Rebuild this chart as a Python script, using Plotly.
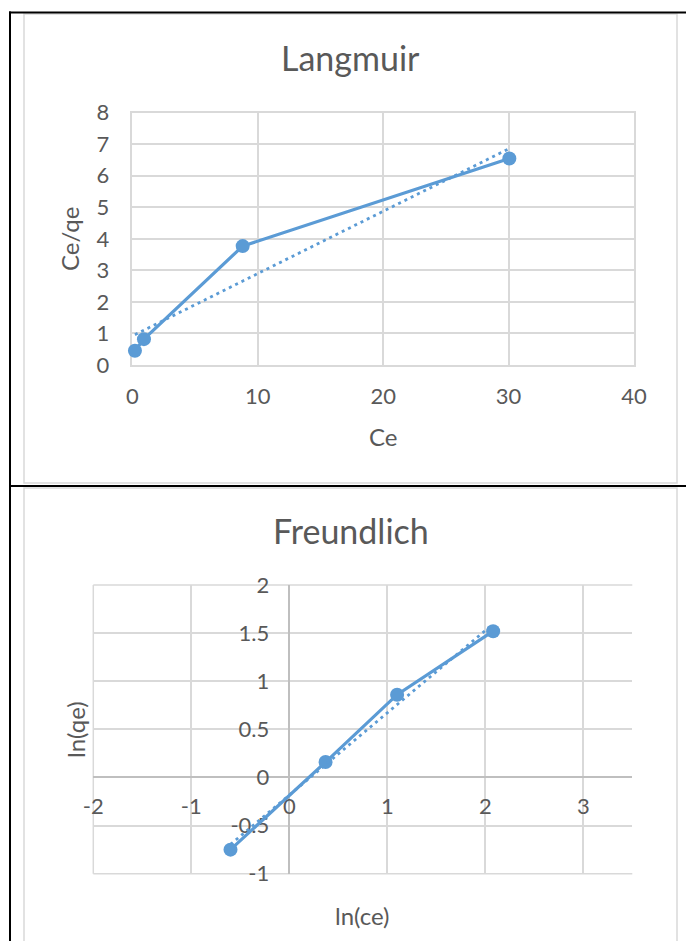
import numpy as np
import plotly.graph_objects as go

# Langmuir isotherm data
ce = [0.21, 0.93, 8.8, 30.06]
ce_qe = [0.45, 0.82, 3.77, 6.55]

# Freundlich isotherm data
ln_ce = [-0.60, 0.37, 1.10, 2.08]
ln_qe = [-0.75, 0.16, 0.86, 1.52]

# Tick labels
lang_x_ticks = [0, 10, 20, 30, 40]
lang_x_text = ["0", "10", "20", "30", "40"]
lang_y_ticks = [0, 1, 2, 3, 4, 5, 6, 7, 8]
lang_y_text = ["0", "1", "2", "3", "4", "5", "6", "7", "8"]
freu_x_ticks = [-2, -1, 0, 1, 2, 3]
freu_x_text = ["-2", "-1", "0", "1", "2", "3"]
freu_y_ticks = [-1, -0.5, 0, 0.5, 1, 1.5, 2]
freu_y_text = ["-1", "-0.5", "0", "0.5", "1", "1.5", "2"]

W, H = 686, 941
BLUE = "#5b9bd5"
GRID = "#d9d9d9"
TEXT = "#595959"
FONT = "Lato"


def px(x):
    return x / W


def py(y):
    return 1 - y / H


def linear_trend(x, y):
    slope, intercept = np.polyfit(x, y, 1)
    xs = np.array([min(x), max(x)])
    return xs, slope * xs + intercept


fig = go.Figure()

series_line = dict(color=BLUE, width=3.2)
series_marker = dict(color=BLUE, size=14)
trend_line = dict(color=BLUE, width=2.8, dash="3px,4px")

# Langmuir series and its linear trendline
fig.add_trace(go.Scatter(x=ce, y=ce_qe, mode="lines+markers",
                         line=series_line, marker=series_marker,
                         cliponaxis=False,
                         xaxis="x", yaxis="y", showlegend=False))
tx, ty = linear_trend(ce, ce_qe)
fig.add_trace(go.Scatter(x=tx, y=ty, mode="lines", line=trend_line,
                         xaxis="x", yaxis="y", showlegend=False))

# Freundlich series and its linear trendline
fig.add_trace(go.Scatter(x=ln_ce, y=ln_qe, mode="lines+markers",
                         line=series_line, marker=series_marker,
                         cliponaxis=False,
                         xaxis="x2", yaxis="y2", showlegend=False))
tx2, ty2 = linear_trend(ln_ce, ln_qe)
fig.add_trace(go.Scatter(x=tx2, y=ty2, mode="lines", line=trend_line,
                         xaxis="x2", yaxis="y2", showlegend=False))

tickfont = dict(family=FONT, size=22, color=TEXT)

lx_dom = [px(132.3), px(634)]
ly_dom = [py(365), py(112.7)]
fx_dom = [px(93.3), px(632.3)]
fy_dom = [py(873.7), py(585)]
fx_range = [-2, 3.5]
fy_range = [-1, 2]

# Freundlich axes cross at the origin
fx_pos = fy_dom[0] + (0 - fy_range[0]) / (fy_range[1] - fy_range[0]) * (fy_dom[1] - fy_dom[0])
fy_pos = fx_dom[0] + (0 - fx_range[0]) / (fx_range[1] - fx_range[0]) * (fx_dom[1] - fx_dom[0])

common = dict(showgrid=True, gridcolor=GRID, gridwidth=1.5, ticks="",
              tickfont=tickfont, fixedrange=True, automargin=False,
              layer="below traces")

fig.update_layout(
    template="none",
    width=W, height=H,
    margin=dict(l=0, r=0, t=0, b=0, pad=0, autoexpand=False),
    paper_bgcolor="white", plot_bgcolor="white",
    xaxis=dict(domain=lx_dom, range=[0, 40], anchor="y",
               tickvals=lang_x_ticks, ticktext=lang_x_text,
               showline=True, mirror=True, linecolor=GRID, linewidth=1.5,
               zeroline=False, ticklabelstandoff=11, **common),
    yaxis=dict(domain=ly_dom, range=[0, 8], anchor="x",
               tickvals=lang_y_ticks, ticktext=lang_y_text,
               showline=True, mirror=True, linecolor=GRID, linewidth=1.5,
               zeroline=False, ticklabelstandoff=17, **common),
    xaxis2=dict(domain=fx_dom, range=fx_range, anchor="free", position=fx_pos,
                tickvals=freu_x_ticks, ticktext=freu_x_text,
                showline=False, zeroline=True, zerolinecolor="#bfbfbf",
                zerolinewidth=1.5, ticklabelstandoff=14, **common),
    yaxis2=dict(domain=fy_dom, range=fy_range, anchor="free", position=fy_pos,
                tickvals=freu_y_ticks, ticktext=freu_y_text,
                showline=False, zeroline=True, zerolinecolor="#bfbfbf",
                zerolinewidth=1.5, ticklabelstandoff=20, **common),
)

# Freundlich plot-area edges (left, bottom, top)
edge = dict(color=GRID, width=1.5)
for x0, y0, x1, y1 in [(0, 0, 0, 1), (0, 0, 1, 0), (0, 1, 1, 1)]:
    fig.add_shape(type="line", xref="x2 domain", yref="y2 domain",
                  x0=x0, y0=y0, x1=x1, y1=y1, line=edge, layer="below")


# Chart titles and axis titles
def label(text, x, y, size, angle=0):
    fig.add_annotation(text=text, x=px(x), y=py(y), xref="paper", yref="paper",
                       xanchor="center", yanchor="middle", showarrow=False,
                       textangle=angle, font=dict(family=FONT, size=size, color=TEXT))


label("Langmuir", 350.5, 57, 34)
label("Ce", 383, 436, 24)
label("Ce/qe", 69, 239, 24, -90)
label("Freundlich", 350.5, 530, 34)
label("ln(ce)", 362.8, 915, 24)
label("ln(qe)", 75, 730, 24, -90)

# Chart area frames
fig.add_shape(type="rect", xref="paper", yref="paper",
              x0=px(24), x1=px(677), y0=py(14), y1=py(483),
              line=dict(color=GRID, width=1.5))
fig.add_shape(type="rect", xref="paper", yref="paper",
              x0=px(24), x1=px(677), y0=py(488), y1=-0.02,
              line=dict(color=GRID, width=1.5))

# Table borders around the charts
black = dict(color="black", width=2)
fig.add_shape(type="line", xref="paper", yref="paper",
              x0=px(9), x1=1, y0=py(12.5), y1=py(12.5), line=black)
fig.add_shape(type="line", xref="paper", yref="paper",
              x0=px(10), x1=px(10), y0=py(11.5), y1=0, line=black)
fig.add_shape(type="line", xref="paper", yref="paper",
              x0=px(9), x1=1, y0=py(486), y1=py(486), line=black)

fig.write_html("out.html", config={"displayModeBar": False})
